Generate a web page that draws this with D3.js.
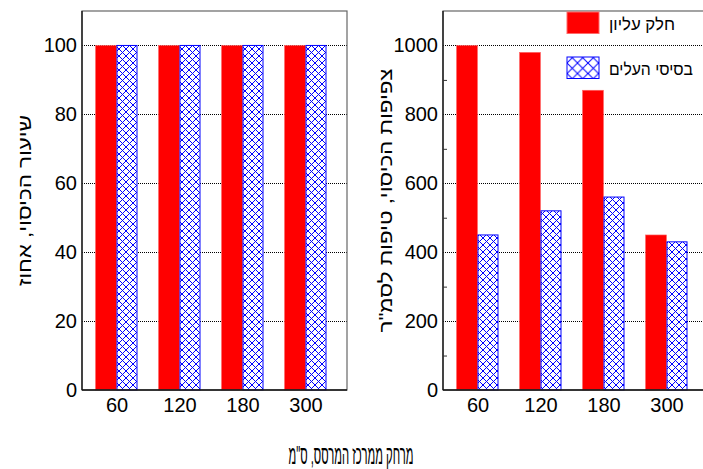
<!DOCTYPE html>
<html>
<head>
<meta charset="utf-8">
<script src="https://cdn.jsdelivr.net/npm/d3@7"></script>
<style>
  body { margin: 0; background: #fff; }
  svg { display: block; font-family: "Liberation Sans", Arial, sans-serif; }
  .tick text { font-size: 20px; fill: #000; }
</style>
</head>
<body>
<div id="chart"></div>
<script>
// data
var distances = ["60", "120", "180", "300"];
var coverTop = [100, 100, 100, 100];
var coverBase = [100, 100, 100, 100];
var densityTop = [1000, 980, 870, 450];
var densityBase = [450, 520, 560, 430];
var seriesNames = ["חלק עליון", "בסיסי העלים"];
var coverTicks = [0, 20, 40, 60, 80, 100];
var densityTicks = [0, 200, 400, 600, 800, 1000];
var densityMinor = [100, 300, 500, 700, 900];

var svgWidth = 703, svgHeight = 469;
var top_ = 11, bottom_ = 390;
var barW = 21;

var svg = d3.select("#chart").append("svg")
  .attr("width", svgWidth)
  .attr("height", svgHeight);

var defs = svg.append("defs");
function hatch(id, size) {
  var p = defs.append("pattern")
    .attr("id", id)
    .attr("patternUnits", "userSpaceOnUse")
    .attr("width", size).attr("height", size);
  p.append("rect").attr("width", size).attr("height", size).attr("fill", "#fff");
  p.append("path")
    .attr("d", "M0,0L" + size + "," + size + "M" + size + ",0L0," + size)
    .attr("stroke", "#0000ff").attr("stroke-width", 1).attr("fill", "none");
}
hatch("hatchBar", 7);
hatch("hatchLegend", 10.5);

function panel(o) {
  var g = svg.append("g");
  var y = d3.scaleLinear().domain([0, o.ymax]).range([bottom_, top_]);
  var x = d3.scalePoint().domain(distances).range([o.left + 34.5, o.left + 223.5]);

  // grid
  g.selectAll(".grid").data(o.ticks.slice(1)).enter().append("line")
    .attr("x1", o.left).attr("x2", Math.min(o.right, svgWidth))
    .attr("y1", function(d) { return y(d); })
    .attr("y2", function(d) { return y(d); })
    .attr("stroke", "#000").attr("stroke-width", 1)
    .attr("stroke-dasharray", "1,1")
    .attr("shape-rendering", "crispEdges");

  // bars
  g.selectAll(".red").data(o.top).enter().append("rect")
    .attr("x", function(d, i) { return x(distances[i]) - barW; })
    .attr("y", function(d) { return y(d); })
    .attr("width", barW)
    .attr("height", function(d) { return y(0) - y(d); })
    .attr("fill", "#ff0000")
    .attr("stroke", "#ff6a6a").attr("stroke-width", 0.6);

  g.selectAll(".blue").data(o.base).enter().append("rect")
    .attr("x", function(d, i) { return x(distances[i]) + 0.5; })
    .attr("y", function(d) { return y(d); })
    .attr("width", barW - 1)
    .attr("height", function(d) { return y(0) - y(d); })
    .attr("fill", "url(#hatchBar)")
    .attr("stroke", "#0000ff").attr("stroke-width", 1);

  // frame
  g.append("rect")
    .attr("x", o.left).attr("y", top_)
    .attr("width", o.right - o.left).attr("height", bottom_ - top_)
    .attr("fill", "none").attr("stroke", "#666").attr("stroke-width", 1.2);
  g.append("line").attr("x1", o.left).attr("x2", o.left)
    .attr("y1", top_).attr("y2", bottom_)
    .attr("stroke", "#111").attr("stroke-width", 1.3);
  g.append("line").attr("x1", o.left).attr("x2", o.right)
    .attr("y1", bottom_).attr("y2", bottom_)
    .attr("stroke", "#111").attr("stroke-width", 1.6);

  // axes
  var ya = g.append("g").attr("transform", "translate(" + o.left + ",0)")
    .call(d3.axisLeft(y).tickValues(o.ticks).tickSize(0).tickPadding(5).tickFormat(d3.format("d")));
  ya.select(".domain").remove();

  if (o.minor) {
    var ym = g.append("g").attr("transform", "translate(" + o.left + ",0)")
      .call(d3.axisLeft(y).tickValues(o.minor).tickSize(-4).tickFormat(""));
    ym.select(".domain").remove();
    ym.selectAll("line").attr("stroke", "#333");
  }

  var xa = g.append("g").attr("transform", "translate(0," + bottom_ + ")")
    .call(d3.axisBottom(x).tickSize(0).tickPadding(8));
  xa.select(".domain").remove();

  // y title
  g.append("text")
    .attr("transform", "translate(" + o.titleX + "," + ((top_ + bottom_) / 2) + ") rotate(-90)")
    .attr("text-anchor", "middle")
    .attr("direction", "rtl")
    .attr("font-size", 19)
    .attr("textLength", o.titleLen)
    .attr("lengthAdjust", "spacingAndGlyphs")
    .text(o.title);

  return g;
}

panel({
  left: 82, right: 347, ymax: 110,
  top: coverTop, base: coverBase, ticks: coverTicks,
  titleX: 31, titleLen: 171,
  title: "שיעור הכיסוי, אחוז"
});

panel({
  left: 443, right: 712, ymax: 1100,
  top: densityTop, base: densityBase, ticks: densityTicks, minor: densityMinor,
  titleX: 392, titleLen: 264,
  title: "צפיפות הכיסוי, טיפות לסמ\"ר"
});

// legend
var legend = svg.append("g");
var swatch = [{fill: "#ff0000", stroke: "#ff6a6a"}, {fill: "url(#hatchLegend)", stroke: "#0000ff"}];
var legendLen = [66, 84];
var ly = d3.scalePoint().domain(seriesNames).range([23, 68]);
seriesNames.forEach(function(name, i) {
  legend.append("rect")
    .attr("x", 567).attr("y", ly(name) - 11)
    .attr("width", 32).attr("height", 21.5)
    .attr("fill", swatch[i].fill)
    .attr("stroke", swatch[i].stroke).attr("stroke-width", 1);
  legend.append("text")
    .attr("x", 609).attr("y", ly(name) + 7)
    .attr("text-anchor", "start")
    .attr("font-size", 17)
    .attr("textLength", legendLen[i])
    .attr("lengthAdjust", "spacingAndGlyphs")
    .text(name);
});

// x title
svg.append("text")
  .attr("x", 351).attr("y", 464)
  .attr("text-anchor", "middle")
  .attr("direction", "rtl")
  .attr("font-size", 26)
  .attr("textLength", 125)
  .attr("lengthAdjust", "spacingAndGlyphs")
  .text("מרחק ממרכז המרסס, ס\"מ");
</script>
</body>
</html>
